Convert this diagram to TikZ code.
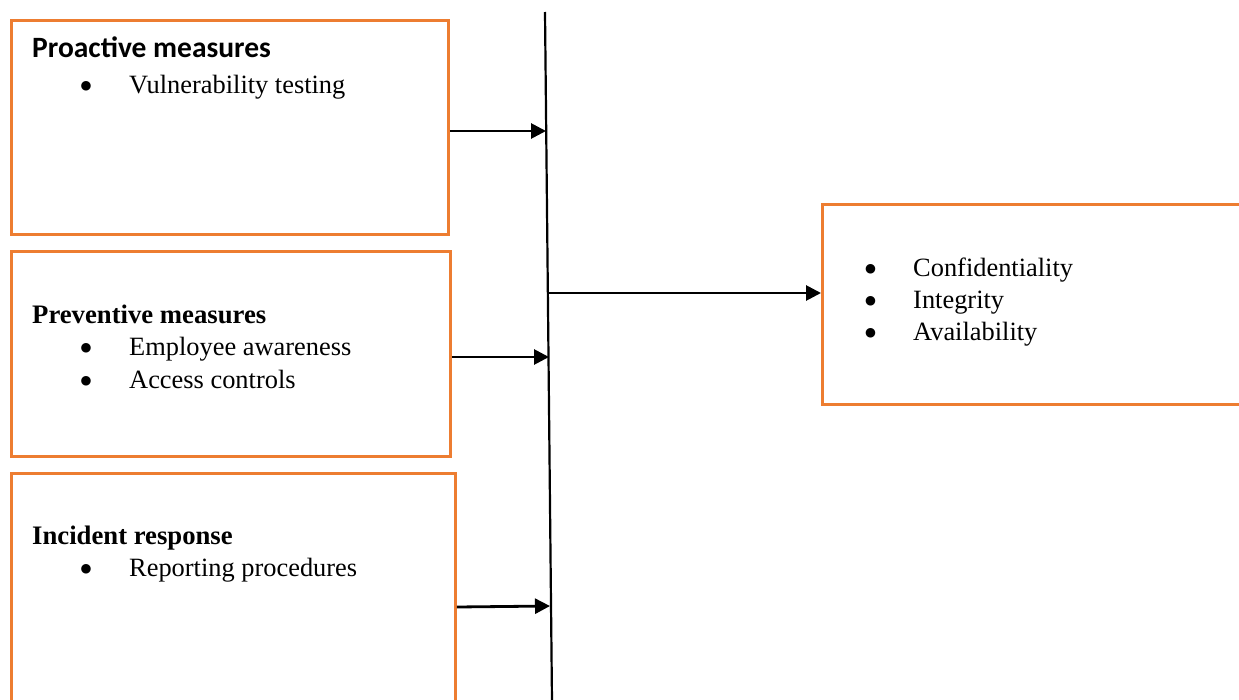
\documentclass[tikz,border=0pt]{standalone}
\usepackage{fontspec}
\setmainfont{Liberation Serif}
\newfontfamily\calibrifont{Carlito}
\newfontfamily\dejavufont{DejaVu Sans}
\usetikzlibrary{arrows.meta}
\definecolor{boxorange}{RGB}{237,125,49}
\begin{document}
\begin{tikzpicture}[x=1pt,y=-1pt,
  box/.style={draw=boxorange,line width=2.8pt,anchor=north west,inner sep=0pt},
  txt/.style={anchor=base west,inner sep=0pt,font=\fontsize{26.4}{32}\selectfont},
  hdr/.style={anchor=base west,inner sep=0pt,font=\fontsize{26.7}{32}\selectfont\bfseries},
  bul/.style={anchor=center,inner sep=0pt,font=\dejavufont\fontsize{12.5}{12.5}\selectfont},
  arr/.style={line width=2.8pt,-{Triangle[length=15pt,width=15pt]}},
]
\clip (0,0) rectangle (1239,699);
\fill[white] (0,0) rectangle (1239,699);
% boxes
\node[box,minimum width=437pt,minimum height=214pt] (b1) at (10,19) {};
\node[box,minimum width=439pt,minimum height=205pt] (b2) at (10,250) {};
\node[box,minimum width=444pt,minimum height=250pt] (b3) at (10,472) {};
\node[box,minimum width=440pt,minimum height=200pt] (b4) at (821,203) {};
% vertical line
\coordinate (vt) at (545,12);
\coordinate (vb) at (552,702);
\draw[line width=2.2pt] (vt) -- (vb);
% arrow targets on the line
\coordinate (t1) at (546,131);
\coordinate (t2) at (549,357);
\coordinate (t3) at (550,606);
\coordinate (s4) at (549,293);
\draw[arr] (b1.east |- t1) -- (t1);
\draw[arr] (b2.east |- t2) -- (t2);
\draw[arr] (b3.east |- 0,607) -- (t3);
\draw[arr] (s4) -- (s4 -| b4.west);
% texts
\node[anchor=base west,inner sep=0pt,font=\calibrifont\bfseries\fontsize{29.5}{34}\selectfont] (h1) at (32,57) {Proactive measures};
\node[bul] (d11) at (86,86) {●};
\node[txt] (i11) at (129,93) {Vulnerability testing};
\node[hdr] (h2) at (32,323) {Preventive measures};
\node[bul] (d21) at (86,348) {●};
\node[txt] (i21) at (129,355) {Employee awareness};
\node[bul] (d22) at (86,381) {●};
\node[txt] (i22) at (129,388) {Access controls};
\node[hdr] (h3) at (32,544) {Incident response};
\node[bul] (d31) at (86,569) {●};
\node[txt] (i31) at (129,576) {Reporting procedures};
\node[bul] (d41) at (870.5,269) {●};
\node[txt] (i41) at (913,276) {Confidentiality};
\node[bul] (d42) at (870.5,301) {●};
\node[txt] (i42) at (913,308) {Integrity};
\node[bul] (d43) at (870.5,333) {●};
\node[txt] (i43) at (913,340) {Availability};
\end{tikzpicture}
\end{document}
